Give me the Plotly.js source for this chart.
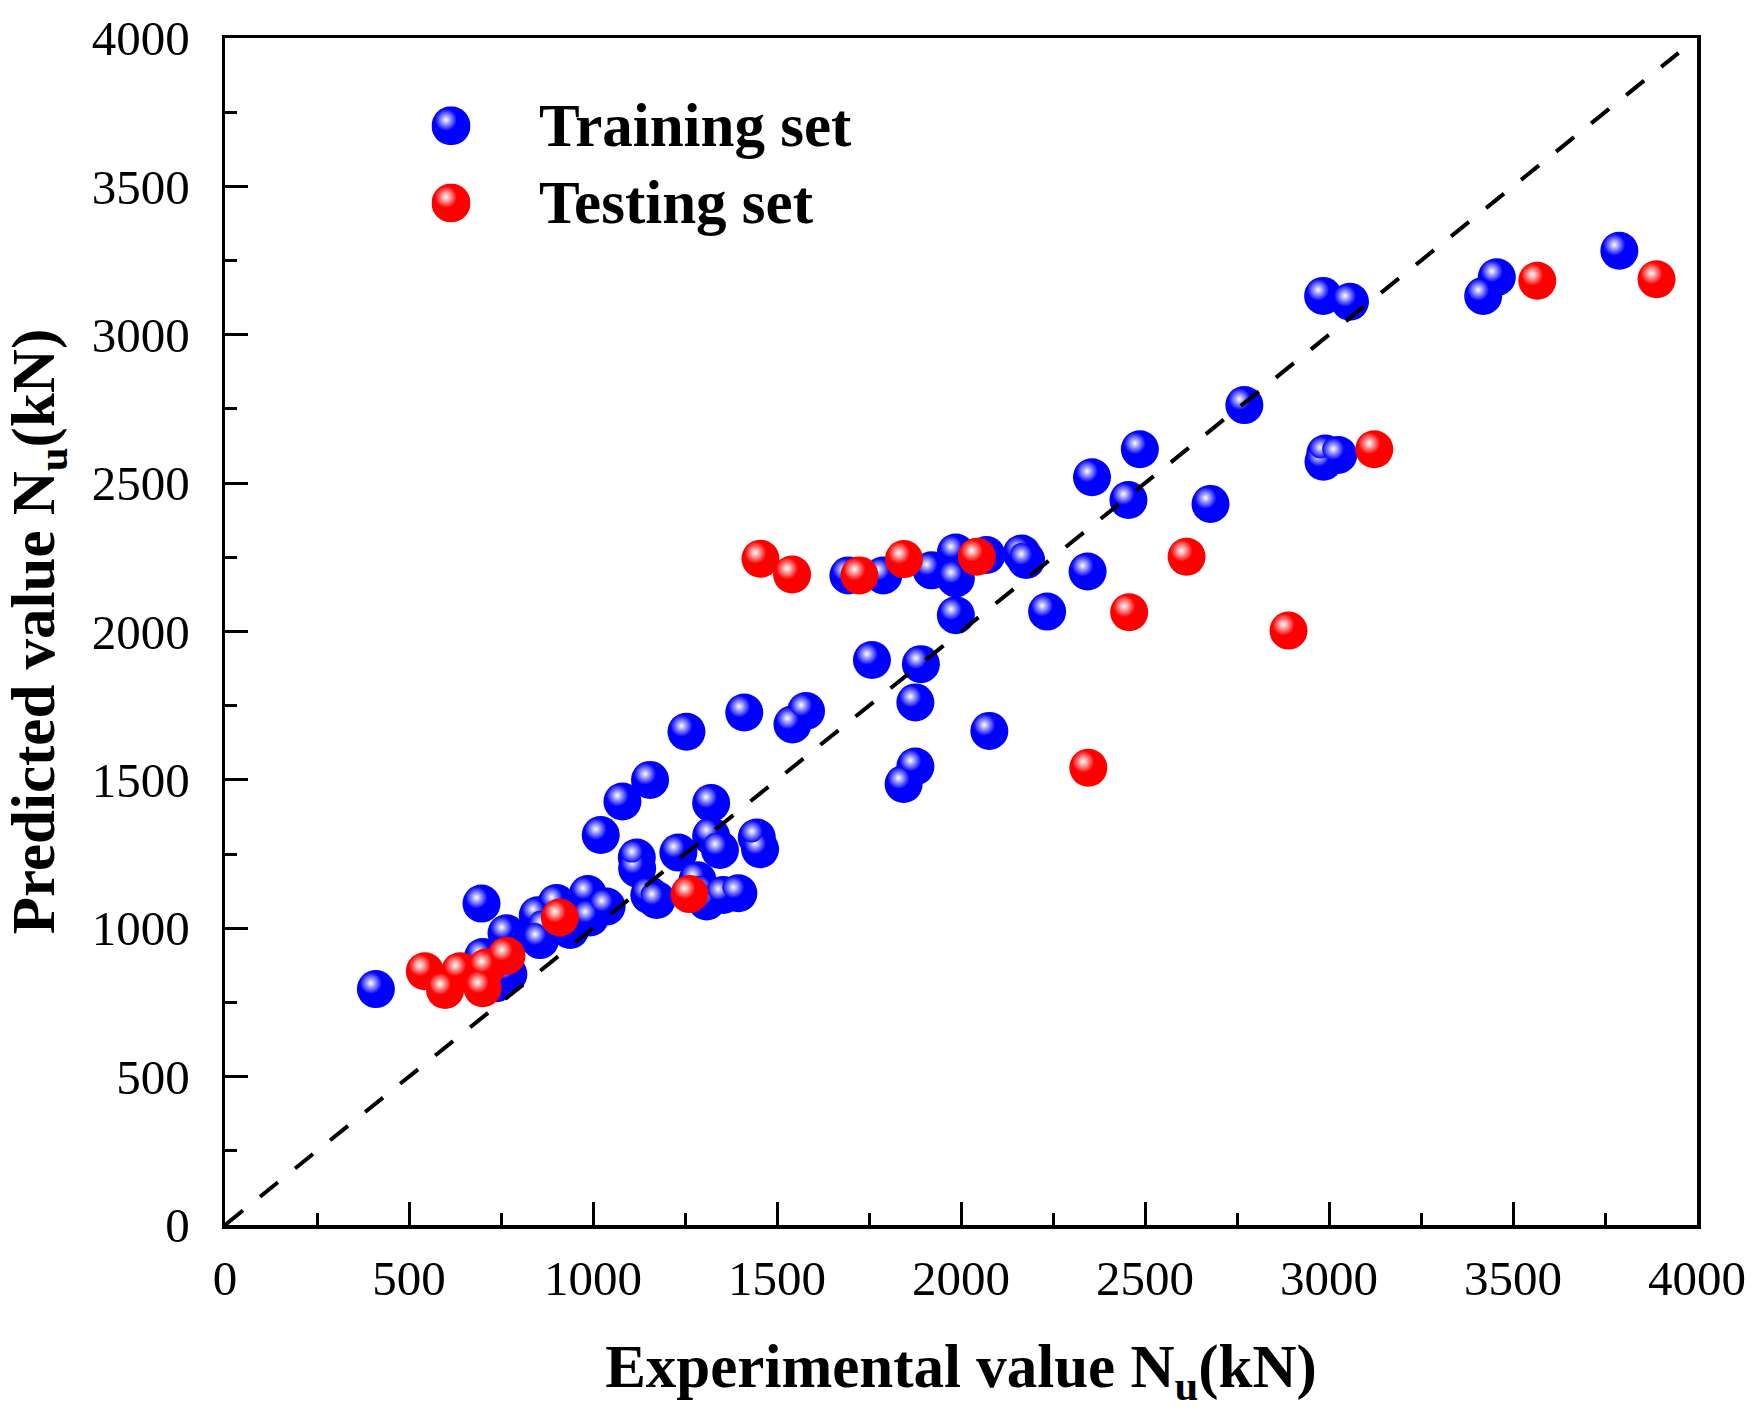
<!DOCTYPE html>
<html>
<head>
<meta charset="utf-8">
<script src="https://cdn.plot.ly/plotly-3.0.1.min.js"></script>
<style>
html,body{margin:0;padding:0;background:#fff;}
#chart{width:1759px;height:1421px;}
</style>
</head>
<body>
<div id="chart"></div>
<script>
// ---- data ----
const seriesNames = ['Training set', 'Testing set'];
const trainX = [410, 697, 701, 738, 770, 765, 850, 870, 856, 901, 938, 986, 992, 1037, 1021, 1080, 1155, 1120, 1119, 1153,
  1173, 1232, 1284, 1304, 1309, 1354, 1395, 1321, 1321, 1345, 1454, 1445, 1254, 1411, 1542, 1579, 1694, 1789, 1920, 1986,
  1986, 2069, 2165, 2177, 1758, 1891, 1876, 1876, 1844, 2077, 1986, 2234, 2344, 2356, 2455, 2486, 2678, 2770, 2985, 2990,
  3025, 2984, 3057, 3419, 3456, 3789];
const trainY = [795, 1083, 903, 815, 845, 983, 1044, 1002, 960, 1085, 994, 1115, 1036, 1073, 1314, 1427, 1500, 1201, 1238, 1112,
  1095, 1255, 1162, 1120, 1090, 1112, 1118, 1422, 1311, 1264, 1266, 1306, 1662, 1727, 1687, 1732, 2189, 2189, 2206, 2179,
  2266, 2258, 2263, 2241, 1904, 1890, 1761, 1545, 1486, 1665, 2055, 2067, 2202, 2520, 2443, 2614, 2430, 2763, 2572, 2600,
  2595, 3131, 3111, 3131, 3194, 3283];
const testX = [543, 598, 639, 700, 711, 765, 910, 1262, 1455, 1541, 1724, 1845, 2043, 2346, 2457, 2613, 2890, 3123, 3566, 3890];
const testY = [855, 792, 855, 798, 868, 907, 1036, 1115, 2245, 2192, 2189, 2244, 2252, 1541, 2065, 2252, 2003, 2614, 3182, 3187];
const refLine = [0, 3950];
const axisRange = [0, 4000];
const tickStep = 500;
const minorStep = 250;

// ---- styling ----
const FONT = '"Liberation Serif", "Times New Roman", Times, serif';
const W = 1759, H = 1421, ML = 225, MR = 62, MT = 38, MB = 196;
const PW = W - ML - MR, PH = H - MT - MB;
const BLUE = 'rgb(0,0,255)', RED = 'rgb(255,0,0)';
const MS = 38, HS = 22;          // ball size, highlight size (px)
const HDX = -5, HDY = -6;        // highlight offset (px)
const span = axisRange[1] - axisRange[0];
const xShift = -HDX * span / PW;
const yShift = HDY * span / PH;
const hiX = [axisRange[0] + xShift, axisRange[1] + xShift];
const hiY = [axisRange[0] + yShift, axisRange[1] + yShift];

function ball(x, y, color, name, xa, ya) {
  return {x: x, y: y, type: 'scatter', mode: 'markers', name: name, xaxis: xa, yaxis: ya,
    showlegend: false, cliponaxis: false,
    marker: {size: MS, color: color, line: {width: 0}}};
}
function shine(x, y, color, xa, ya) {
  return {x: x, y: y, type: 'scatter', mode: 'markers', xaxis: xa, yaxis: ya,
    showlegend: false, hoverinfo: 'skip', cliponaxis: false,
    marker: {size: HS, color: color, line: {width: 0}, gradient: {type: 'radial', color: 'white'}}};
}

const data = [
  ball(trainX, trainY, BLUE, seriesNames[0], 'x', 'y'),
  shine(trainX, trainY, BLUE, 'x2', 'y2'),
  ball(testX, testY, RED, seriesNames[1], 'x3', 'y3'),
  shine(testX, testY, RED, 'x4', 'y4')
];

const tickFont = {family: FONT, size: 49, color: '#000'};
const titleFont = {family: FONT, size: 61, color: '#000', weight: 'bold'};
const baseAxis = {
  range: axisRange, autorange: false, dtick: tickStep, tick0: 0,
  ticks: 'inside', ticklen: 23, tickwidth: 3, tickcolor: '#000',
  showline: true, linewidth: 3.5, linecolor: '#000', mirror: true,
  showgrid: false, zeroline: false, tickfont: tickFont, automargin: false,
  minor: {dtick: minorStep, tick0: 0, ticks: 'inside', ticklen: 12, tickwidth: 3, tickcolor: '#000', showgrid: false}
};
const hidden = (range, over) => ({range: range, autorange: false, overlaying: over, visible: false, showgrid: false, zeroline: false});

function sphereSVG(color) {
  const s = 80, c = 40, k = s / 39;
  const svg = '<svg xmlns="http://www.w3.org/2000/svg" width="' + s + '" height="' + s + '" viewBox="0 0 ' + s + ' ' + s + '">' +
    '<defs><radialGradient id="g" cx="0.5" cy="0.5" r="0.5">' +
    '<stop offset="0" stop-color="#ffffff"/>' +
    '<stop offset="1" stop-color="' + color + '"/></radialGradient></defs>' +
    '<circle cx="' + c + '" cy="' + c + '" r="' + c + '" fill="' + color + '"/>' +
    '<circle cx="' + (c + HDX * k) + '" cy="' + (c + HDY * k) + '" r="' + (HS / 2 * k) + '" fill="url(#g)"/></svg>';
  return 'data:image/svg+xml;charset=utf-8,' + encodeURIComponent(svg);
}

const legendRows = [0.926, 0.861];
const legendColors = [BLUE, RED];
const legendMarkX = (451 - ML) / PW;
const legendTextX = (537 - ML) / PW;

const layout = {
  width: W, height: H,
  margin: {l: ML, r: MR, t: MT, b: MB, pad: 0},
  paper_bgcolor: '#fff', plot_bgcolor: '#fff',
  showlegend: false,
  xaxis: Object.assign({}, baseAxis, {
    ticklabelstandoff: 8,
    title: {text: 'Experimental value N<sub>u</sub>(kN)', font: titleFont, standoff: 40}
  }),
  yaxis: Object.assign({}, baseAxis, {
    ticklabelstandoff: 22,
    title: {text: 'Predicted value N<sub>u</sub>(kN)', font: titleFont, standoff: 28}
  }),
  xaxis2: hidden(hiX, 'x'), yaxis2: hidden(hiY, 'y'),
  xaxis3: hidden(axisRange, 'x'), yaxis3: hidden(axisRange, 'y'),
  xaxis4: hidden(hiX, 'x'), yaxis4: hidden(hiY, 'y'),
  shapes: [{
    type: 'line', xref: 'x', yref: 'y', layer: 'above',
    x0: refLine[0], y0: refLine[0], x1: refLine[1], y1: refLine[1],
    line: {color: '#000', width: 4, dash: '23px,22px'}
  }],
  images: legendRows.map((yy, i) => ({
    source: sphereSVG(legendColors[i]), xref: 'paper', yref: 'paper',
    x: legendMarkX, y: yy, sizex: 39 / PW, sizey: 39 / PH,
    xanchor: 'center', yanchor: 'middle', sizing: 'stretch', layer: 'above'
  })),
  annotations: legendRows.map((yy, i) => ({
    text: seriesNames[i], xref: 'paper', yref: 'paper', x: legendTextX, y: yy,
    xanchor: 'left', yanchor: 'middle', showarrow: false,
    font: {family: FONT, size: 61, color: '#000', weight: 'bold'}
  }))
};

Plotly.newPlot('chart', data, layout, {staticPlot: true, displayModeBar: false});
</script>
</body>
</html>
